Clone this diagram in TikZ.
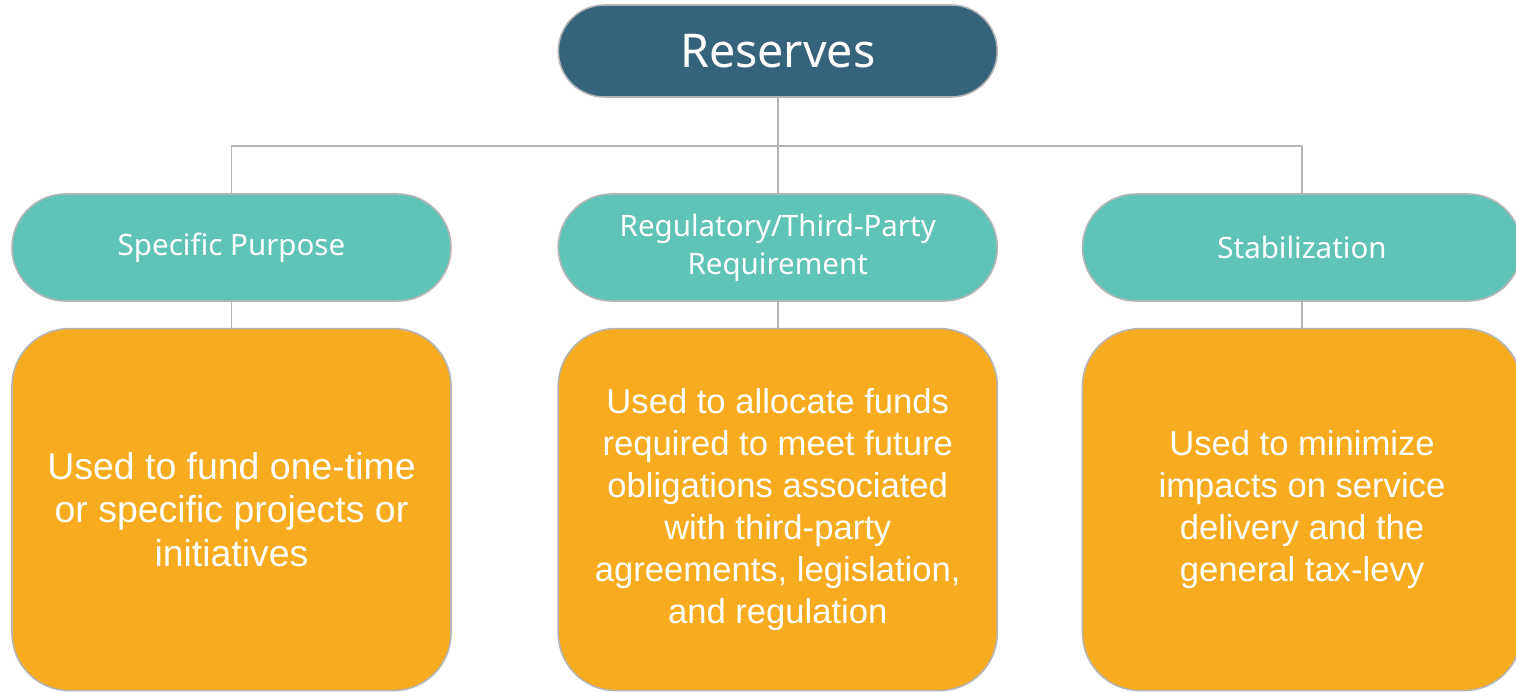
\documentclass[tikz,border=0pt]{standalone}
\usepackage{fontspec}
\setmainfont{Liberation Sans}
\newfontfamily\headfont{Noto Sans}
\usetikzlibrary{positioning}

\definecolor{resblue}{HTML}{35637C}
\definecolor{resteal}{HTML}{5FC4B5}
\definecolor{resorange}{HTML}{F7AB1F}
\definecolor{resline}{HTML}{B5B5B5}

\begin{document}
\begin{tikzpicture}[
        pill/.style={draw=resline, line width=0.9pt, fill=resteal, text=white, align=center,
            minimum width=8.78cm, minimum height=2.14cm, rounded corners=1.07cm,
            font=\headfont\fontsize{16.8}{21.5}\selectfont},
        card/.style={draw=resline, line width=0.9pt, fill=resorange, text=white, align=center,
            minimum width=8.78cm, minimum height=7.24cm, rounded corners=1.15cm,
            font=\fontsize{19.7}{23.8}\selectfont},
        link/.style={resline, line width=1.1pt}
    ]
        \useasboundingbox (0,0) rectangle (30.32,-13.82);
        % top of the tree
        \node[pill, fill=resblue, minimum height=1.84cm, rounded corners=0.92cm,
            font=\headfont\fontsize{26.5}{30}\selectfont] (reserves) at (15.555,-1.02) {Reserves};
        % the three kinds of reserve
        \node[pill] (purpose) at (4.63,-4.95) {Specific Purpose};
        \node[pill] (regulatory) at (15.555,-4.95) {Regulatory/Third-Party\\Requirement};
        \node[pill] (stable) at (26.04,-4.95) {Stabilization};
        % what each one is used for
        \node[card, below=0.52cm of purpose, font=\fontsize{21.3}{24.5}\selectfont] (purposetext)
            {Used to fund one-time\\or specific projects or\\initiatives};
        \node[card, below=0.52cm of regulatory] (regulatorytext)
            {Used to allocate funds\\required to meet future\\obligations associated\\with third-party\\agreements, legislation,\\and regulation};
        \node[card, below=0.52cm of stable] (stabletext)
            {Used to minimize\\impacts on service\\delivery and the\\general tax-levy};
        % connectors
        \coordinate (bus) at (reserves.south |- 0,-2.92);
        \draw[link] (reserves.south) -- (bus);
        \draw[link] (purpose.north) |- (bus) -| (stable.north);
        \draw[link] (bus) -- (regulatory.north);
        \draw[link] (purpose) -- (purposetext);
        \draw[link] (regulatory) -- (regulatorytext);
        \draw[link] (stable) -- (stabletext);
    \end{tikzpicture}
\end{document}
